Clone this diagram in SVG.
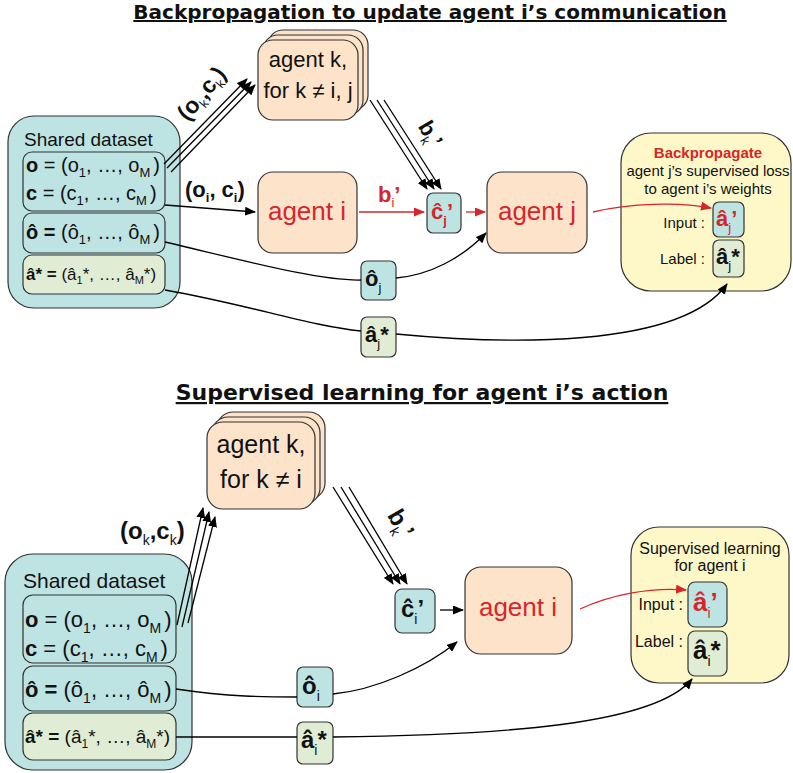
<svg xmlns="http://www.w3.org/2000/svg" width="793" height="773" viewBox="0 0 793 773">
<defs>
<style>
text{font-family:"Liberation Sans",Arial,sans-serif;fill:#111}
.title{font-family:"DejaVu Sans","Liberation Sans",sans-serif;font-weight:bold;text-decoration:underline}
.teal{fill:#bde3e3;stroke:#333;stroke-width:1.2}
.peach{fill:#fde3c9;stroke:#333;stroke-width:1.2}
.yel{fill:#fef8c8;stroke:#333;stroke-width:1.2}
.grn{fill:#e0edd4;stroke:#333;stroke-width:1.2}
.red{fill:#d7262b}
.b{font-weight:bold}
.ln{fill:none;stroke:#000;stroke-width:1.3}
.rl{fill:none;stroke:#d7262b;stroke-width:1.3}
</style>
<marker id="ah" markerWidth="11" markerHeight="9" refX="10" refY="4.5" orient="auto" markerUnits="userSpaceOnUse"><path d="M0,0 L11,4.5 L0,9 z" fill="#000"/></marker>
<marker id="ahr" markerWidth="11" markerHeight="9" refX="10" refY="4.5" orient="auto" markerUnits="userSpaceOnUse"><path d="M0,0 L11,4.5 L0,9 z" fill="#d7262b"/></marker>
</defs>
<rect width="793" height="773" fill="#fff"/>

<!-- ============ TOP ============ -->
<text class="title" x="430" y="19" font-size="20" text-anchor="middle">Backpropagation to update agent i’s communication</text>

<g id="dataset-top">
<rect class="teal" x="8" y="116" width="172" height="192" rx="26"/>
<text x="24" y="146" font-size="19">Shared dataset</text>
<rect class="teal" x="23" y="152" width="142" height="59" rx="9"/>
<rect class="teal" x="23" y="213" width="142" height="40" rx="9"/>
<rect class="grn" x="23" y="255" width="142" height="39" rx="9"/>
<text x="26" y="172" font-size="20"><tspan class="b">o</tspan> = (o<tspan font-size="13" dy="5">1</tspan><tspan dy="-5">, …, o</tspan><tspan font-size="13" dy="5">M</tspan><tspan dy="-5" dx="3">)</tspan></text>
<text x="26" y="200" font-size="20"><tspan class="b">c</tspan> = (c<tspan font-size="13" dy="5">1</tspan><tspan dy="-5">, …, c</tspan><tspan font-size="13" dy="5">M</tspan><tspan dy="-5" dx="3">)</tspan></text>
<text x="26" y="239" font-size="20"><tspan class="b">ô =</tspan> (ô<tspan font-size="13" dy="5">1</tspan><tspan dy="-5">, …, ô</tspan><tspan font-size="13" dy="5">M</tspan><tspan dy="-5" dx="3">)</tspan></text>
<text x="26" y="280" font-size="17"><tspan class="b">â* =</tspan> (â<tspan font-size="11" dy="4">1</tspan><tspan dy="-4">*, …, â</tspan><tspan font-size="11" dy="4">M</tspan><tspan dy="-4">*)</tspan></text>
</g>

<g id="agentk-top">
<rect class="peach" x="268" y="30" width="100" height="80" rx="15"/>
<rect class="peach" x="263" y="35" width="100" height="80" rx="15"/>
<rect class="peach" x="258" y="40" width="100" height="80" rx="15"/>
<text x="308" y="67" font-size="22" text-anchor="middle">agent k,</text>
<text x="308" y="98" font-size="22" text-anchor="middle">for k ≠ i, j</text>
</g>

<g id="agenti-top">
<rect class="peach" x="258" y="172" width="99" height="81" rx="15"/>
<text x="307" y="220" font-size="26" text-anchor="middle" class="red">agent i</text>
</g>

<g id="cj-top">
<rect class="teal" x="427" y="193" width="34" height="40" rx="6"/>
<text x="431" y="219" font-size="22" class="b red">ĉ<tspan font-size="13" dy="6">j</tspan><tspan dy="-6">’</tspan></text>
</g>

<g id="agentj-top">
<rect class="peach" x="487" y="172" width="100" height="81" rx="15"/>
<text x="537" y="220" font-size="26" text-anchor="middle" class="red">agent j</text>
</g>

<g id="oj-top">
<rect class="teal" x="361" y="261" width="35" height="39" rx="6"/>
<text x="365" y="286" font-size="22" class="b">ô<tspan font-size="13" dy="6" font-weight="normal">j</tspan></text>
</g>

<g id="aj-top">
<rect class="grn" x="361" y="317" width="35" height="40" rx="6"/>
<text x="365" y="342" font-size="22" class="b">â<tspan font-size="13" dy="6" font-weight="normal">j</tspan><tspan dy="-6">*</tspan></text>
</g>

<g id="loss-top">
<rect class="yel" x="621" y="133" width="170" height="158" rx="30"/>
<text x="708" y="158" font-size="15" text-anchor="middle" class="b red">Backpropagate</text>
<text x="708" y="176" font-size="15" text-anchor="middle">agent j’s supervised loss</text>
<text x="708" y="194" font-size="15" text-anchor="middle">to agent i’s weights</text>
<text x="705" y="228" font-size="15" text-anchor="end">Input :</text>
<text x="705" y="264" font-size="15" text-anchor="end">Label :</text>
<rect class="teal" x="713" y="202" width="31" height="35" rx="6"/>
<text x="716" y="226" font-size="22" class="b red">â<tspan font-size="13" dy="6" font-weight="normal">j</tspan><tspan dy="-6">’</tspan></text>
<rect class="grn" x="713" y="240" width="31" height="37" rx="6"/>
<text x="716" y="264" font-size="22" class="b">â<tspan font-size="13" dy="6" font-weight="normal">j</tspan><tspan dy="-6">*</tspan></text>
</g>

<!-- ============ BOTTOM ============ -->
<text class="title" x="422" y="400" font-size="22" text-anchor="middle">Supervised learning for agent i’s action</text>

<g id="dataset-bot">
<rect class="teal" x="5" y="554" width="187" height="216" rx="28"/>
<text x="23" y="588" font-size="21">Shared dataset</text>
<rect class="teal" x="23" y="595" width="153" height="68" rx="10"/>
<rect class="teal" x="23" y="666" width="153" height="45" rx="10"/>
<rect class="grn" x="23" y="713" width="153" height="47" rx="10"/>
<text x="25" y="627" font-size="22"><tspan class="b">o</tspan> = (o<tspan font-size="14" dy="6">1</tspan><tspan dy="-6">, …, o</tspan><tspan font-size="14" dy="6">M</tspan><tspan dy="-6" dx="3">)</tspan></text>
<text x="25" y="656" font-size="22"><tspan class="b">c</tspan> = (c<tspan font-size="14" dy="6">1</tspan><tspan dy="-6">, …, c</tspan><tspan font-size="14" dy="6">M</tspan><tspan dy="-6" dx="3">)</tspan></text>
<text x="25" y="697" font-size="22"><tspan class="b">ô =</tspan> (ô<tspan font-size="14" dy="6">1</tspan><tspan dy="-6">, …, ô</tspan><tspan font-size="14" dy="6">M</tspan><tspan dy="-6" dx="3">)</tspan></text>
<text x="25" y="743" font-size="19"><tspan class="b">â* =</tspan> (â<tspan font-size="12" dy="5">1</tspan><tspan dy="-5">*, …, â</tspan><tspan font-size="12" dy="5">M</tspan><tspan dy="-5">*)</tspan></text>
</g>

<g id="agentk-bot">
<rect class="peach" x="217" y="412" width="108" height="87" rx="16"/>
<rect class="peach" x="212" y="417" width="108" height="87" rx="16"/>
<rect class="peach" x="207" y="422" width="108" height="87" rx="16"/>
<text x="261" y="453" font-size="25" text-anchor="middle">agent k,</text>
<text x="261" y="488" font-size="25" text-anchor="middle">for k ≠ i</text>
</g>

<g id="ci-bot">
<rect class="teal" x="395" y="589" width="40" height="44" rx="7"/>
<text x="401" y="617" font-size="24" class="b">ĉ<tspan font-size="14" dy="7" font-weight="normal">i</tspan><tspan dy="-7">’</tspan></text>
</g>

<g id="agenti-bot">
<rect class="peach" x="465" y="567" width="107" height="87" rx="16"/>
<text x="518" y="616" font-size="26" text-anchor="middle" class="red">agent i</text>
</g>

<g id="oi-bot">
<rect class="teal" x="297" y="667" width="36" height="40" rx="6"/>
<text x="302" y="694" font-size="24" class="b">ô<tspan font-size="14" dy="7" font-weight="normal">i</tspan></text>
</g>

<g id="ai-bot">
<rect class="grn" x="297" y="722" width="36" height="42" rx="6"/>
<text x="301" y="748" font-size="24" class="b">â<tspan font-size="14" dy="7" font-weight="normal">i</tspan><tspan dy="-7">*</tspan></text>
</g>

<g id="sup-bot">
<rect class="yel" x="631" y="527" width="158" height="156" rx="28"/>
<text x="710" y="554" font-size="16" text-anchor="middle">Supervised learning</text>
<text x="710" y="571" font-size="16" text-anchor="middle">for agent i</text>
<text x="683" y="610" font-size="16" text-anchor="end">Input :</text>
<text x="683" y="647" font-size="16" text-anchor="end">Label :</text>
<rect class="teal" x="688" y="582" width="39" height="45" rx="7"/>
<text x="693" y="611" font-size="26" class="b red">â<tspan font-size="14" dy="7" font-weight="normal">i</tspan><tspan dy="-7">’</tspan></text>
<rect class="grn" x="688" y="631" width="39" height="45" rx="7"/>
<text x="693" y="659" font-size="26" class="b">â<tspan font-size="14" dy="7" font-weight="normal">i</tspan><tspan dy="-7">*</tspan></text>
</g>

<!-- ============ CONNECTORS ============ -->
<g id="connectors">
<!-- top -->
<path class="ln" d="M165,205 L255,212" marker-end="url(#ah)"/>
<path class="ln" d="M164,164 L247,79" marker-end="url(#ah)"/>
<path class="ln" d="M167,168 L251,82" marker-end="url(#ah)"/>
<path class="ln" d="M171,172 L255,85" marker-end="url(#ah)"/>
<path class="ln" d="M370,100 L427,189" marker-end="url(#ah)"/>
<path class="ln" d="M377,100 L434,189" marker-end="url(#ah)"/>
<path class="ln" d="M384,100 L441,189" marker-end="url(#ah)"/>
<path class="rl" d="M359,212 L424,212" marker-end="url(#ahr)"/>
<path class="rl" d="M466,212 L485,212" marker-end="url(#ahr)"/>
<path class="ln" d="M165,242 C250,262 320,281 361,280"/>
<path class="ln" d="M396,278 C430,275 462,258 486,233" marker-end="url(#ah)"/>
<path class="ln" d="M165,290 C250,305 310,326 361,331"/>
<path class="ln" d="M396,334 C500,344 680,350 727,284" marker-end="url(#ah)"/>
<path class="rl" d="M593,212 C630,203 680,202 711,208" marker-end="url(#ahr)"/>
<!-- bottom -->
<path class="ln" d="M177,625 L203,508" marker-end="url(#ah)"/>
<path class="ln" d="M182,627 L209,512" marker-end="url(#ah)"/>
<path class="ln" d="M188,623 L215,517" marker-end="url(#ah)"/>
<path class="ln" d="M333,487 L393,584" marker-end="url(#ah)"/>
<path class="ln" d="M341,487 L400,584" marker-end="url(#ah)"/>
<path class="ln" d="M349,487 L407,584" marker-end="url(#ah)"/>
<path class="ln" d="M440,610 L463,610" marker-end="url(#ah)"/>
<path class="ln" d="M176,689 C230,697 265,697 297,697"/>
<path class="ln" d="M333,694 C375,690 425,668 457,642" marker-end="url(#ah)"/>
<path class="ln" d="M176,737 L297,737"/>
<path class="ln" d="M333,737 C500,735 655,725 692,679" marker-end="url(#ah)"/>
<path class="rl" d="M580,609 C610,595 650,587 686,590" marker-end="url(#ahr)"/>
</g>

<!-- connector labels -->
<text x="185" y="197" font-size="22" class="b">(o<tspan font-size="13" dy="5">i</tspan><tspan dy="-5">, c</tspan><tspan font-size="13" dy="5">i</tspan><tspan dy="-5">)</tspan></text>
<text transform="translate(202,94) rotate(-50)" x="0" y="7" font-size="23" class="b" text-anchor="middle">(o<tspan font-size="13" dy="5" font-weight="normal">k</tspan><tspan dy="-5">,c</tspan><tspan font-size="13" dy="5" font-weight="normal">k</tspan><tspan dy="-5">)</tspan></text>
<text transform="translate(430,134) rotate(60)" x="0" y="7" font-size="22" class="b" text-anchor="middle">b<tspan font-size="13" dy="5" font-weight="normal">k</tspan><tspan dy="-5">’</tspan></text>
<text x="378" y="202" font-size="22" class="b red">b<tspan font-size="13" dy="5" font-weight="normal">i</tspan><tspan dy="-5">’</tspan></text>
<text x="120" y="539" font-size="24" class="b">(o<tspan font-size="14" dy="6" font-weight="normal">k</tspan><tspan dy="-6">,c</tspan><tspan font-size="14" dy="6" font-weight="normal">k</tspan><tspan dy="-6">)</tspan></text>
<text transform="translate(400,524) rotate(60)" x="0" y="7" font-size="24" class="b" text-anchor="middle">b<tspan font-size="14" dy="6" font-weight="normal">k</tspan><tspan dy="-6">’</tspan></text>
</svg>
